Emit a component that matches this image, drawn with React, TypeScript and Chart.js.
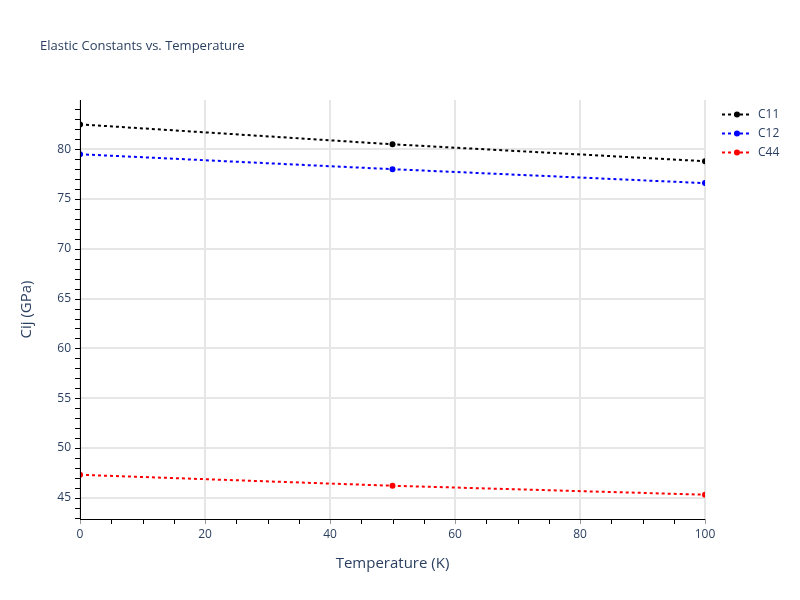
import React, { useEffect, useRef } from "react";
import { Chart, registerables } from "chart.js";

Chart.register(...registerables);

const temperatures = [0, 50, 100];
const c11Values = [82.5, 80.5, 78.8];
const c12Values = [79.5, 78.0, 76.6];
const c44Values = [47.3, 46.2, 45.3];
const seriesNames = ["C11", "C12", "C44"];
const seriesColors = ["#000000", "#0000ff", "#ff0000"];
const xTickStep = 20;
const yTickStep = 5;

const chartTitle = "Elastic Constants vs. Temperature";
const xTitle = "Temperature (K)";
const yTitle = "Cij (GPa)";

const FONT = '"Open Sans", verdana, arial, sans-serif';
const TEXT = "#2a3f5f";

const overlay = {
  id: "overlay",
  afterDraw(chart: any) {
    const ctx = chart.ctx;
    const { left, right, top, bottom } = chart.chartArea;
    const xs = chart.scales.x;
    const ys = chart.scales.y;
    ctx.save();
    ctx.lineWidth = 1;
    ctx.strokeStyle = "#000";
    for (let v = Math.ceil(ys.min); v <= ys.max; v++) {
      const y = Math.round(ys.getPixelForValue(v)) + 0.5;
      ctx.beginPath();
      ctx.moveTo(left - 5, y);
      ctx.lineTo(left, y);
      ctx.stroke();
    }
    for (let v = 0; v <= xs.max; v += 5) {
      const x = Math.round(xs.getPixelForValue(v)) + 0.5;
      ctx.strokeStyle = v % xTickStep === 0 ? "#999" : "#000";
      ctx.beginPath();
      ctx.moveTo(x, bottom);
      ctx.lineTo(x, bottom + 5);
      ctx.stroke();
    }
    ctx.strokeStyle = "#000";
    ctx.beginPath();
    ctx.moveTo(left + 0.5, top);
    ctx.lineTo(left + 0.5, bottom + 1);
    ctx.moveTo(left, bottom + 0.5);
    ctx.lineTo(right, bottom + 0.5);
    ctx.stroke();

    ctx.fillStyle = TEXT;
    ctx.font = `13px ${FONT}`;
    ctx.textAlign = "left";
    ctx.textBaseline = "middle";
    ctx.fillText(chartTitle, 40, 46);

    ctx.font = `15px ${FONT}`;
    ctx.textAlign = "center";
    ctx.fillText(xTitle, (left + right) / 2, 564);
    ctx.save();
    ctx.translate(27, (top + bottom) / 2);
    ctx.rotate(-Math.PI / 2);
    ctx.fillText(yTitle, 0, 0);
    ctx.restore();

    ctx.font = `12px ${FONT}`;
    ctx.textAlign = "left";
    chart.data.datasets.forEach((ds: any, i: number) => {
      const y = 114.5 + i * 19;
      ctx.strokeStyle = ds.borderColor;
      ctx.lineWidth = 2;
      ctx.setLineDash([3, 3]);
      ctx.beginPath();
      ctx.moveTo(722, y);
      ctx.lineTo(751, y);
      ctx.stroke();
      ctx.setLineDash([]);
      ctx.fillStyle = ds.borderColor;
      ctx.beginPath();
      ctx.arc(737, y, 3, 0, Math.PI * 2);
      ctx.fill();
      ctx.fillStyle = TEXT;
      ctx.fillText(ds.label, 758, y);
    });
    ctx.restore();
  },
};

export default function App() {
  const ref = useRef<HTMLCanvasElement | null>(null);
  useEffect(() => {
    document.body.style.margin = "0";
    const values = [c11Values, c12Values, c44Values];
    const chart = new Chart(ref.current!, {
      type: "line",
      data: {
        datasets: seriesNames.map((name, i) => ({
          label: name,
          data: temperatures.map((t, j) => ({ x: t, y: values[i][j] })),
          borderColor: seriesColors[i],
          backgroundColor: seriesColors[i],
          borderWidth: 2,
          borderDash: [3, 3],
          pointRadius: 3,
          pointHoverRadius: 3,
          pointBorderWidth: 0,
          tension: 0,
          fill: false,
        })),
      },
      options: {
        animation: false,
        responsive: false,
        layout: { padding: { left: 0, right: 95, top: 100, bottom: 0 } },
        plugins: { legend: { display: false }, title: { display: false }, tooltip: { enabled: false } },
        scales: {
          x: {
            type: "linear",
            min: 0,
            max: 100,
            ticks: { stepSize: xTickStep, color: TEXT, font: { family: FONT, size: 12 }, padding: 8, maxRotation: 0 },
            grid: { color: "#e6e6e6", drawTicks: false, lineWidth: 2 },
            border: { display: false },
            afterFit: (s: any) => { s.height = 81; },
          },
          y: {
            type: "linear",
            min: 42.86,
            max: 84.95,
            ticks: { stepSize: yTickStep, includeBounds: false, color: TEXT, font: { family: FONT, size: 12 }, padding: 9 },
            grid: { color: "#e6e6e6", drawTicks: false, lineWidth: 2 },
            border: { display: false },
            afterFit: (s: any) => { s.width = 80; },
          },
        },
      },
      plugins: [overlay],
    } as any);
    return () => chart.destroy();
  }, []);
  return (
    <div style={{ width: 800, height: 600, background: "#fff" }}>
      <canvas ref={ref} width={800} height={600} style={{ width: 800, height: 600, display: "block" }} />
    </div>
  );
}
